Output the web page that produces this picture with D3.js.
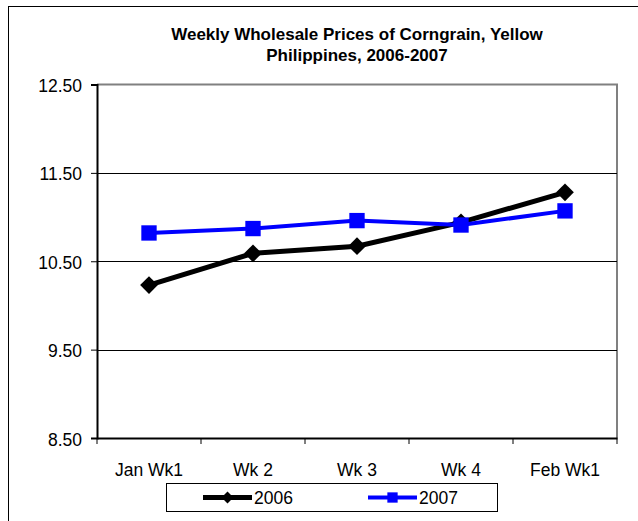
<!DOCTYPE html>
<html>
<head>
<meta charset="utf-8">
<script src="https://cdn.jsdelivr.net/npm/d3@7"></script>
<style>
  body { margin: 0; background: #fff; }
  text { font-family: "Liberation Sans", Arial, sans-serif; fill: #000; }
</style>
</head>
<body>
<div id="chart"></div>
<script>
const weeks = ["Jan Wk1", "Wk 2", "Wk 3", "Wk 4", "Feb Wk1"];
const prices2006 = [10.23, 10.59, 10.67, 10.94, 11.28];
const prices2007 = [10.82, 10.87, 10.96, 10.91, 11.07];
const yTicks = [8.5, 9.5, 10.5, 11.5, 12.5];
const titleLines = ["Weekly Wholesale Prices of Corngrain, Yellow", "Philippines, 2006-2007"];

const width = 638, height = 521;
const plot = {left: 97, right: 617, top: 84.5, bottom: 438};

const svg = d3.select("#chart").append("svg")
    .attr("width", width)
    .attr("height", height);

// outer chart frame (runs off the right/bottom edge)
svg.append("rect")
    .attr("x", 8.5).attr("y", 6.5)
    .attr("width", 700).attr("height", 600)
    .attr("fill", "#fff")
    .attr("stroke", "#000");

const x = d3.scaleBand().domain(weeks).range([plot.left, plot.right]);
const y = d3.scaleLinear().domain([8.5, 12.5]).range([plot.bottom, plot.top]);

// plot area border (gray top/right)
svg.append("path")
    .attr("d", `M${plot.left},${plot.top}H${plot.right}V${plot.bottom}`)
    .attr("fill", "none")
    .attr("stroke", "#808080")
    .attr("stroke-width", 2);

// gridlines
svg.append("g").selectAll("line")
  .data(yTicks.filter(t => t > 8.5 && t < 12.5))
  .enter().append("line")
    .attr("x1", plot.left).attr("x2", plot.right)
    .attr("y1", d => Math.round(y(d)) + 0.5)
    .attr("y2", d => Math.round(y(d)) + 0.5)
    .attr("stroke", "#000");

// y axis
const yAxis = svg.append("g")
    .attr("transform", `translate(${plot.left},0)`)
    .call(d3.axisLeft(y).tickValues(yTicks).tickFormat(d3.format(".2f")).tickSize(6).tickPadding(9));
yAxis.select(".domain").attr("stroke-width", 2);
yAxis.selectAll("text").style("font-size", "17.5px").attr("dy", "0.4em");

// x axis
const xAxis = svg.append("g")
    .attr("transform", `translate(0,${plot.bottom})`)
    .call(d3.axisBottom(x).tickSize(0).tickPadding(38));
xAxis.select(".domain").attr("stroke-width", 2);
xAxis.selectAll("text").style("font-size", "17.5px").attr("dy", "0");
xAxis.append("g").selectAll("line")
  .data(weeks.map(w => x(w)).concat([plot.right]))
  .enter().append("line")
    .attr("x1", d => d).attr("x2", d => d)
    .attr("y1", 0).attr("y2", 6)
    .attr("stroke", "#000");

// title
svg.append("g").selectAll("text")
  .data(titleLines)
  .enter().append("text")
    .attr("x", (plot.left + plot.right) / 2)
    .attr("y", (d, i) => 39.5 + i * 21.5)
    .attr("text-anchor", "middle")
    .style("font-size", "17px")
    .style("font-weight", "bold")
    .text(d => d);

const cx = d => x(d) + x.bandwidth() / 2;
const line = d3.line().x(d => cx(d[0])).y(d => y(d[1]));

const series = [
  {name: "2006", values: prices2006, color: "#000", width: 5, symbol: d3.symbolDiamond2, size: 200},
  {name: "2007", values: prices2007, color: "#0000ff", width: 4, symbol: d3.symbolSquare2, size: 300}
];

series.forEach(s => {
  const pts = weeks.map((w, i) => [w, s.values[i]]);
  svg.append("path")
      .datum(pts)
      .attr("fill", "none")
      .attr("stroke", s.color)
      .attr("stroke-width", s.width)
      .attr("d", line);
  svg.append("g").selectAll("path")
    .data(pts)
    .enter().append("path")
      .attr("transform", d => `translate(${cx(d[0])},${y(d[1])})`)
      .attr("d", d3.symbol(s.symbol, s.size))
      .attr("fill", s.color);
});

// legend
const legend = svg.append("g");
legend.append("rect")
    .attr("x", 166.5).attr("y", 483.5)
    .attr("width", 331).attr("height", 28)
    .attr("fill", "#fff")
    .attr("stroke", "#000");
const legendX = [203, 368];
series.forEach((s, i) => {
  const g = legend.append("g").attr("transform", `translate(${legendX[i]},497.5)`);
  g.append("line")
      .attr("x1", 0).attr("x2", 49)
      .attr("stroke", s.color)
      .attr("stroke-width", s.width);
  g.append("path")
      .attr("transform", "translate(24.5,0)")
      .attr("d", d3.symbol(s.symbol, s.size * 0.45))
      .attr("fill", s.color);
  g.append("text")
      .attr("x", 51).attr("y", 0)
      .attr("dy", "0.35em")
      .style("font-size", "17.5px")
      .text(s.name);
});
</script>
</body>
</html>
